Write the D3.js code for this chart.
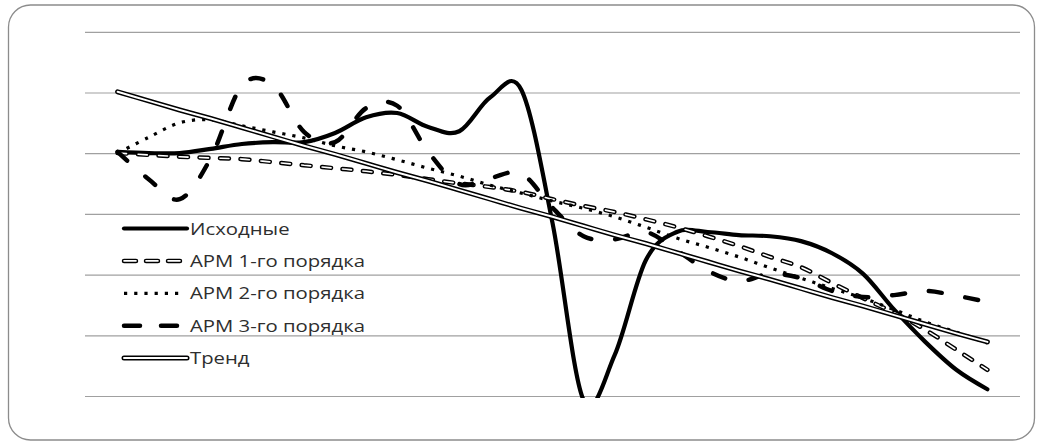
<!DOCTYPE html>
<html><head><meta charset="utf-8">
<script src="https://cdn.jsdelivr.net/npm/d3@7"></script>
<style>html,body{margin:0;padding:0;background:#fff;} svg{display:block;}</style>
</head><body>
<script>
// ---- data ----
const categories = [1,2,3,4,5,6,7,8,9,10,11,12,13,14,15,16,17,18,19,20,21,22,23,24,25,26,27,28,29];
const original = [40.3,40.1,40.1,40.8,41.6,41.9,41.9,43.4,46.0,46.7,44.4,43.7,49.3,50.5,28.6,-0.6,6.8,22.4,27.1,27.1,26.6,26.4,25.6,23.6,20.2,14.3,9.0,4.4,1.2];
const arm1 = [40.1,39.8,39.5,39.3,39.1,38.6,38.1,37.6,37.1,36.5,35.8,35.1,34.5,33.7,32.5,31.4,30.4,29.2,27.9,26.4,24.8,23.0,21.3,18.7,16.2,13.8,11.0,7.7,4.4];
const arm2 = [40.1,42.7,45.1,45.6,44.6,43.6,42.6,41.3,40.3,39.0,37.6,36.3,34.8,33.5,32.2,31.0,29.6,27.9,26.1,24.6,23.0,21.2,19.5,17.8,16.2,14.3,12.3,10.6,8.8];
const arm3 = [40.3,35.8,32.5,39.3,51.2,51.3,43.6,41.9,47.5,47.9,40.3,35.0,36.0,36.7,31.1,26.4,25.9,27.1,24.1,20.7,19.0,20.2,19.5,17.4,16.4,16.7,17.4,16.6,15.6];
const trend = [50.2,48.7,47.2,45.8,44.3,42.8,41.3,39.9,38.4,36.9,35.5,34.0,32.5,31.0,29.6,28.1,26.6,25.2,23.7,22.2,20.7,19.3,17.8,16.3,14.9,13.4,11.9,10.4,9.0];
const gridTicks = [0,10,20,30,40,50,60];
const seriesNames = ["Исходные","АРМ 1-го порядка","АРМ 2-го порядка","АРМ 3-го порядка","Тренд"];

// ---- layout ----
const W = 1043, H = 445;
const plot = {left:85, right:1020, top:32.3, bottom:396.5};

const svg = d3.select("body").append("svg").attr("width", W).attr("height", H);

svg.append("rect").attr("x",8.5).attr("y",5).attr("width",1026).attr("height",435)
  .attr("rx",22).attr("ry",22).attr("fill","#fff").attr("stroke","#8c8c8c").attr("stroke-width",1.3);

const x = d3.scalePoint().domain(categories).range([plot.left, plot.right]).padding(1.05);
const y = d3.scaleLinear().domain([0,60]).range([plot.bottom, plot.top]);

// gridlines
svg.append("g").selectAll("line").data(gridTicks).join("line")
  .attr("x1", plot.left).attr("x2", plot.right)
  .attr("y1", d => y(d)).attr("y2", d => y(d))
  .attr("stroke", "#a0a0a0").attr("stroke-width", 1.2);

svg.append("clipPath").attr("id","clip").append("rect")
  .attr("x", plot.left - 5).attr("y", plot.top - 30).attr("width", plot.right - plot.left + 10)
  .attr("height", plot.bottom - plot.top + 31.5);

const g = svg.append("g").attr("clip-path","url(#clip)");
const line = d3.line().x((d,i) => x(categories[i])).y(d => y(d)).curve(d3.curveCatmullRom.alpha(0));

// Original
g.append("path").attr("d", line(original)).attr("fill","none")
  .attr("stroke","#000").attr("stroke-width",4.2).attr("stroke-linecap","round").attr("stroke-linejoin","round");
// ARM1 outlined dashes
g.append("path").attr("d", line(arm1)).attr("fill","none")
  .attr("stroke","#000").attr("stroke-width",4.5).attr("stroke-linecap","round").attr("stroke-dasharray","9 11.5");
g.append("path").attr("d", line(arm1)).attr("fill","none")
  .attr("stroke","#fff").attr("stroke-width",1.6).attr("stroke-linecap","round").attr("stroke-dasharray","9 11.5");
// ARM2 dotted
g.append("path").attr("d", line(arm2)).attr("fill","none")
  .attr("stroke","#000").attr("stroke-width",3.2).attr("stroke-dasharray","3.2 7");
// ARM3 long dash
g.append("path").attr("d", line(arm3)).attr("fill","none")
  .attr("stroke","#000").attr("stroke-width",4.5).attr("stroke-linecap","round").attr("stroke-dasharray","13 24");
// Trend double line
g.append("path").attr("d", line(trend)).attr("fill","none")
  .attr("stroke","#000").attr("stroke-width",5).attr("stroke-linecap","round");
g.append("path").attr("d", line(trend)).attr("fill","none")
  .attr("stroke","#fff").attr("stroke-width",2).attr("stroke-linecap","round");

// ---- legend ----
const leg = svg.append("g");
const rowY = k => 228.5 + 32.4 * k;
const sx0 = 124, sx1 = 187, tx = 190;
const styles = [
  {w:4.2, dash:null, cap:"round", inner:null},
  {w:4.5, dash:"12 10", cap:"round", inner:1.6, x1:180},
  {w:3.2, dash:"3.2 7", cap:"butt", inner:null, x1:181},
  {w:4.5, dash:"16 21", cap:"round", inner:null, x1:180},
  {w:5, dash:null, cap:"round", inner:2}
];
seriesNames.forEach((name,k) => {
  const s = styles[k];
  const yy = rowY(k);
  const xe = s.x1 || sx1;
  const l = leg.append("line").attr("x1",sx0).attr("x2",xe).attr("y1",yy).attr("y2",yy)
    .attr("stroke","#000").attr("stroke-width",s.w).attr("stroke-linecap",s.cap);
  if (s.dash) l.attr("stroke-dasharray", s.dash);
  if (s.inner) {
    const l2 = leg.append("line").attr("x1",sx0).attr("x2",xe).attr("y1",yy).attr("y2",yy)
      .attr("stroke","#fff").attr("stroke-width",s.inner).attr("stroke-linecap",s.cap);
    if (s.dash) l2.attr("stroke-dasharray", s.dash);
  }
});
const texts = leg.selectAll("text.lbl").data(seriesNames).join("text").attr("class","lbl")
  .attr("font-family","'Open Sans', sans-serif").attr("font-size","16.5px").attr("fill","#2e2e2e")
  .text(d => d);
const ref = texts.nodes()[1].getComputedTextLength();
const sc = 175 / ref;
texts.attr("transform",(d,k) => `translate(${tx},${rowY(k)+6}) scale(${sc},1)`);
</script>
</body></html>
